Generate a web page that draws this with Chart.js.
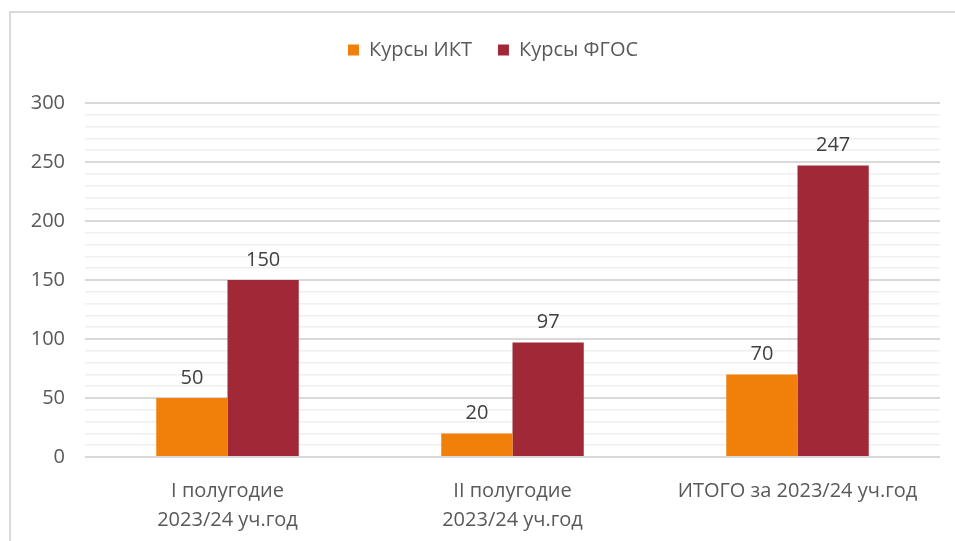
<!DOCTYPE html>
<html>
<head>
<meta charset="utf-8">
<script src="https://cdn.jsdelivr.net/npm/chart.js@4"></script>
<style>
  body { margin: 0; background: #fff; }
  #frame { position: absolute; left: 9px; top: 11px; width: 960px; height: 540px; border: 2px solid #d9d9d9; }
  #chart { position: absolute; left: 0; top: 0; }
</style>
</head>
<body>
<div id="frame"></div>
<canvas id="chart" width="955" height="541"></canvas>
<script>
const categories = [['I полугодие', '2023/24 уч.год'], ['II полугодие', '2023/24 уч.год'], 'ИТОГО за 2023/24 уч.год']
const ikt = [50, 20, 70]
const fgos = [150, 97, 247]
const seriesNames = ['Курсы ИКТ', 'Курсы ФГОС']

Chart.defaults.font.family = "'Open Sans', sans-serif"
Chart.defaults.color = '#595959'

// подписи значений над столбцами
const valueLabels = {
  id: 'valueLabels',
  afterDatasetsDraw(chart) {
    const ctx = chart.ctx
    ctx.save()
    ctx.font = "20px 'Open Sans', sans-serif"
    ctx.fillStyle = '#404040'
    ctx.textAlign = 'center'
    ctx.textBaseline = 'bottom'
    chart.data.datasets.forEach((ds, i) => {
      chart.getDatasetMeta(i).data.forEach((bar, j) => {
        ctx.fillText(ds.data[j], bar.x, bar.y - 10)
      })
    })
    ctx.restore()
  }
}

const chart = document.getElementById('chart')

new Chart(chart, {
  type: 'bar',
  data: {
    labels: categories,
    datasets: [{
      label: seriesNames[0],
      data: ikt,
      backgroundColor: '#F0800A'
    }, {
      label: seriesNames[1],
      data: fgos,
      backgroundColor: '#A02837'
    }]
  },
  options: {
    responsive: false,
    animation: false,
    layout: { padding: { top: 14, right: 0, left: 31, bottom: 0 } },
    plugins: {
      legend: {
        labels: { boxWidth: 11, boxHeight: 11, padding: 26, font: { size: 20 }, color: '#595959' }
      },
      // пустой подзаголовок как отступ между легендой и графиком
      subtitle: {
        display: true,
        text: ' ',
        weight: 500,
        font: { size: 10, lineHeight: 1 },
        padding: { top: 0, bottom: 23 }
      },
      tooltip: { enabled: false }
    },
    datasets: {
      bar: { categoryPercentage: 0.5, barPercentage: 1 }
    },
    scales: {
      x: {
        grid: { display: false },
        border: { display: false },
        ticks: { font: { size: 20, lineHeight: 1.45 }, padding: 12, maxRotation: 0 },
        afterFit(scale) { scale.height = 84 }
      },
      y: {
        min: 0,
        max: 300,
        border: { display: false },
        grid: {
          drawTicks: false,
          color: c => c.tick.value % 50 === 0 ? '#d9d9d9' : '#f0f0f0',
          lineWidth: c => c.tick.value % 50 === 0 ? 2 : 1.5
        },
        ticks: {
          stepSize: 10,
          autoSkip: false,
          padding: 20,
          font: { size: 20 },
          callback: v => v % 50 === 0 ? v : ''
        },
        afterFit(scale) { scale.width = 54 }
      },
      // пустая ось справа — только отступ
      pad: {
        position: 'right',
        display: true,
        grid: { display: false },
        border: { display: false },
        ticks: { display: false },
        afterFit(scale) { scale.width = 15 }
      }
    }
  },
  plugins: [valueLabels]
})
</script>
</body>
</html>
